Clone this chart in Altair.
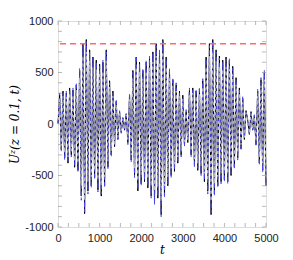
import altair as alt
import pandas as pd

# time grid (sampling of the signal)
t = list(range(0, 5001, 40))

black = [
    0, 280, -250, 320, -330, 300, -380, 350, -300, 330,
    -420, 380, -450, 520, -700, 780, -870, 820, -650, 720,
    -600, 650, -520, 620, -640, 580, -700, 600, -600, 720,
    -420, 420, -300, 320, -220, 220, -150, 120, -80, 60,
    -60, 100, -180, 280, -350, 520, -500, 650, -650, 600,
    -580, 520, -560, 600, -620, 640, -700, 700, -760, 780,
    -720, 700, -880, 820, -700, 650, -600, 520, -500, 430,
    -460, 380, -380, 320, -300, 280, -200, 120, -180, 330,
    -300, 350, -400, 320, -450, 340, -480, 420, -560, 650,
    -650, 780, -880, 820, -680, 720, -600, 660, -560, 620,
    -540, 650, -560, 620, -500, 560, -420, 450, -330, 350,
    -240, 250, -150, 130, 40, -100, 120, -60, 80, -200,
    320, -380, 430, -450, 500, -600,
]
blue = [
    10, 300, -270, 300, -350, 320, -360, 330, -320, 350,
    -400, 400, -470, 540, -740, 760, -850, 800, -680, 700,
    -620, 640, -540, 600, -660, 560, -680, 620, -620, 700,
    -440, 400, -320, 300, -200, 240, -160, 130, -90, 70,
    -50, 110, -200, 300, -370, 500, -520, 660, -630, 580,
    -600, 540, -540, 620, -600, 660, -720, 680, -780, 760,
    -700, 720, -900, 800, -720, 630, -580, 540, -520, 450,
    -440, 400, -360, 300, -320, 260, -220, 140, -160, 350,
    -320, 330, -420, 340, -430, 360, -500, 440, -540, 630,
    -680, 760, -860, 800, -700, 700, -620, 640, -580, 600,
    -560, 630, -580, 640, -480, 540, -440, 430, -350, 330,
    -260, 270, -140, 120, 50, -110, 110, -70, 90, -220,
    340, -400, 450, -470, 520, -580,
]
grey = [
    0, 240, -210, 270, -280, 260, -320, 300, -260, 280,
    -360, 330, -380, 450, -600, 660, -740, 700, -560, 610,
    -510, 550, -450, 530, -540, 500, -600, 510, -510, 610,
    -360, 360, -260, 270, -190, 190, -130, 100, -70, 50,
    -50, 90, -150, 240, -300, 440, -430, 550, -550, 510,
    -490, 440, -480, 510, -530, 540, -600, 600, -650, 660,
    -610, 600, -750, 700, -600, 550, -510, 440, -430, 370,
    -390, 320, -320, 270, -260, 240, -170, 100, -150, 280,
    -260, 300, -340, 270, -380, 290, -410, 360, -480, 550,
    -550, 660, -750, 700, -580, 610, -510, 560, -480, 530,
    -460, 550, -480, 530, -430, 480, -360, 380, -280, 300,
    -200, 210, -130, 110, 30, -90, 100, -50, 70, -170,
    270, -320, 370, -380, 430, -510,
]
threshold = [780]

x_labels = [0, 1000, 2000, 3000, 4000, 5000]
y_labels = [-1000, -500, 0, 500, 1000]
x_ticks = [0, 250, 500, 750, 1000, 1250, 1500, 1750, 2000, 2250, 2500, 2750,
           3000, 3250, 3500, 3750, 4000, 4250, 4500, 4750, 5000]
y_ticks = [-1000, -900, -800, -700, -600, -500, -400, -300, -200, -100, 0,
           100, 200, 300, 400, 500, 600, 700, 800, 900, 1000]

W, H = 208, 206
FRAME = "#9a9a9a"

xs = alt.Scale(domain=[0, 5000], nice=False)
ys = alt.Scale(domain=[-1000, 1000], nice=False)

xaxis = alt.Axis(values=x_labels, ticks=False, domain=False, grid=False,
                 labelExpr="'' + datum.value",
                 labelPadding=5, title="t", titleFont="DejaVu Serif",
                 titleFontStyle="italic", titleFontWeight="normal",
                 titleFontSize=12, titlePadding=1, labelFont="Liberation Sans",
                 labelFontSize=11, labelColor="#222", labelFlush=False)
yaxis = alt.Axis(values=y_labels, ticks=False, domain=False, grid=False,
                 labelExpr="'' + datum.value",
                 labelPadding=5, title="Uᶻ(z = 0.1, t)", titleFont="DejaVu Serif",
                 titleFontStyle="italic", titleFontWeight="normal",
                 titleFontSize=12, titlePadding=3, labelFont="Liberation Sans",
                 labelFontSize=11, labelColor="#222", labelFlush=False)

df_b = pd.DataFrame({"t": t, "u": black})
df_bl = pd.DataFrame({"t": t, "u": blue})
df_g = pd.DataFrame({"t": t, "u": grey})

line_black = alt.Chart(df_b).mark_line(color="#000000", strokeWidth=1).encode(
    x=alt.X("t:Q", scale=xs, axis=xaxis),
    y=alt.Y("u:Q", scale=ys, axis=yaxis),
)
line_blue = alt.Chart(df_bl).mark_line(color="#4848e8", strokeWidth=1, strokeDash=[4, 3]).encode(
    x=alt.X("t:Q", scale=xs), y=alt.Y("u:Q", scale=ys))
line_grey = alt.Chart(df_g).mark_line(color="#bdbdbd", strokeWidth=1, strokeDash=[3, 3], strokeDashOffset=2).encode(
    x=alt.X("t:Q", scale=xs), y=alt.Y("u:Q", scale=ys))

red = alt.Chart(pd.DataFrame({"y": threshold})).mark_rule(
    strokeDash=[6, 4], strokeWidth=1.5, opacity=1).encode(
    y=alt.Y("y:Q", scale=ys), color=alt.value("#ff6a6a"))

dx = pd.DataFrame({"x": x_ticks})
dy = pd.DataFrame({"y": y_ticks})
tick_b = alt.Chart(dx).mark_tick(color=FRAME, size=4, thickness=1, orient="vertical").encode(
    x=alt.X("x:Q", scale=xs), y=alt.value(H - 2))
tick_t = alt.Chart(dx).mark_tick(color=FRAME, size=4, thickness=1, orient="vertical").encode(
    x=alt.X("x:Q", scale=xs), y=alt.value(2))
tick_l = alt.Chart(dy).mark_tick(color=FRAME, size=4, thickness=1, orient="horizontal").encode(
    y=alt.Y("y:Q", scale=ys), x=alt.value(2))
tick_r = alt.Chart(dy).mark_tick(color=FRAME, size=4, thickness=1, orient="horizontal").encode(
    y=alt.Y("y:Q", scale=ys), x=alt.value(W - 2))

chart = alt.layer(line_black, line_blue, line_grey, red, tick_b, tick_t, tick_l, tick_r).properties(
    width=W, height=H,
    padding={"left": 0, "top": 7, "right": 5, "bottom": 0},
).configure_view(stroke=FRAME, strokeWidth=1).configure(background="white")

chart.save("out.html", embed_options={"renderer": "svg", "actions": False})
